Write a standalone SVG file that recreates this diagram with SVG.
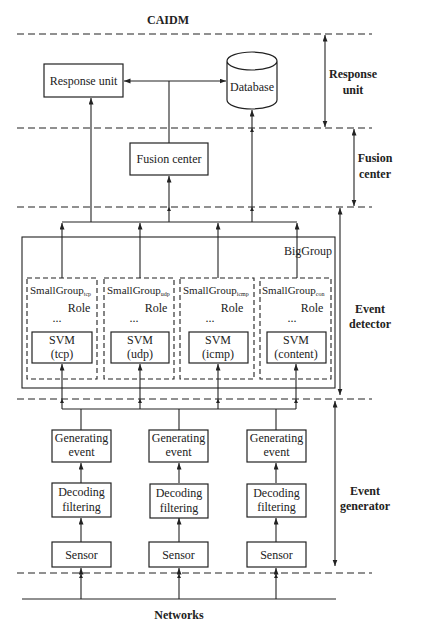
<svg xmlns="http://www.w3.org/2000/svg" width="428" height="626" viewBox="0 0 428 626">
<defs>
<marker id="ah" markerWidth="7" markerHeight="6" refX="6.5" refY="2.5" orient="auto-start-reverse" markerUnits="userSpaceOnUse"><path d="M0,0 L6.5,2.5 L0,5 z" fill="#222"/></marker>
<marker id="am" markerWidth="5" markerHeight="4" refX="4" refY="2" orient="auto" markerUnits="userSpaceOnUse"><path d="M0,0 L4,2 L0,4 z" fill="#222"/></marker>
<style>
.box{fill:#fff;stroke:#222;stroke-width:1.2}
.sg{fill:none;stroke:#222;stroke-width:1.1;stroke-dasharray:5,3}
.dash{stroke:#222;stroke-width:1.1;stroke-dasharray:7,4;fill:none}
.ln{stroke:#222;stroke-width:1.1;fill:none}
.arr{stroke:#222;stroke-width:1.1;fill:none;marker-end:url(#ah)}
.arm{stroke:#222;stroke-width:1.1;fill:none;marker-mid:url(#am);marker-end:url(#ah)}
.dbl{stroke:#222;stroke-width:1.1;fill:none;marker-start:url(#ah);marker-end:url(#ah)}
.t{font-family:"Liberation Serif","Times New Roman",serif;font-size:12px;fill:#222;text-anchor:middle}
.b{font-family:"Liberation Serif","Times New Roman",serif;font-size:12px;font-weight:bold;fill:#222;text-anchor:middle}
.s{font-family:"Liberation Serif","Times New Roman",serif;font-size:11px;fill:#222}
.sub{font-size:6px}
</style>
</defs>
<g id="layers">
<line class="dash" x1="17" y1="34" x2="372" y2="34"/>
<line class="dash" x1="17" y1="128" x2="372" y2="128"/>
<line class="dash" x1="17" y1="207" x2="372" y2="207"/>
<line class="dash" x1="17" y1="399" x2="372" y2="399"/>
<line class="dash" x1="17" y1="573" x2="372" y2="573"/>
<line class="ln" x1="22" y1="599" x2="336" y2="599" stroke-width="1.6"/>
<text class="b" x="168" y="24">CAIDM</text>
<text class="b" x="179" y="619">Networks</text>
<line class="dbl" x1="325" y1="35" x2="325" y2="127"/>
<text class="b" x="353" y="78">Response</text>
<text class="b" x="353" y="94">unit</text>
<line class="dbl" x1="354" y1="129" x2="354" y2="206"/>
<text class="b" x="375" y="162">Fusion</text>
<text class="b" x="375" y="178">center</text>
<line class="dbl" x1="340" y1="208" x2="340" y2="395"/>
<text class="b" x="370" y="313">Event</text>
<text class="b" x="370" y="328">detector</text>
<line class="dbl" x1="335" y1="401" x2="335" y2="566"/>
<text class="b" x="365" y="495">Event</text>
<text class="b" x="365" y="510">generator</text>
</g>
<g id="connectors">
<line class="dbl" x1="124" y1="81" x2="226" y2="81"/>
<polyline class="ln" points="169,143 169,81"/>
<line class="arr" x1="91" y1="222" x2="91" y2="98"/>
<polyline class="arm" points="169,222 169,207 169,176"/>
<polyline class="arm" points="252,222 252,207 252,128 252,110"/>
<line class="ln" x1="62" y1="222" x2="297" y2="222"/>
<line class="arr" x1="62" y1="278" x2="62" y2="223"/>
<line class="arr" x1="140" y1="278" x2="140" y2="223"/>
<line class="arr" x1="218" y1="278" x2="218" y2="223"/>
<line class="arr" x1="297" y1="278" x2="297" y2="223"/>
<line class="ln" x1="62" y1="409" x2="296" y2="409"/>
<polyline class="arm" points="62,409 62,399 62,364"/>
<polyline class="arm" points="140,409 140,399 140,364"/>
<polyline class="arm" points="218,409 218,399 218,364"/>
<polyline class="arm" points="296,409 296,399 296,364"/>
<line class="ln" x1="81" y1="409" x2="81" y2="430"/>
<line class="ln" x1="179" y1="409" x2="179" y2="430"/>
<line class="ln" x1="276" y1="409" x2="276" y2="430"/>
<line class="arr" x1="81" y1="483" x2="81" y2="463"/>
<line class="arr" x1="179" y1="483" x2="179" y2="463"/>
<line class="arr" x1="276" y1="483" x2="276" y2="463"/>
<line class="arr" x1="81" y1="542" x2="81" y2="518"/>
<line class="arr" x1="179" y1="542" x2="179" y2="518"/>
<line class="arr" x1="276" y1="542" x2="276" y2="518"/>
<polyline class="arm" points="81,599 81,574 81,568"/>
<polyline class="arm" points="179,599 179,574 179,568"/>
<polyline class="arm" points="276,599 276,574 276,568"/>
</g>
<g id="response-unit">
<rect class="box" x="44" y="64" width="79" height="33"/>
<text class="t" x="83.5" y="85">Response unit</text>
</g>
<g id="database">
<path class="box" d="M227,61 V100 A25,9 0 0 0 277,100 V61 A25,9 0 0 0 227,61 A25,9 0 0 0 277,61"/>
<text class="t" x="252" y="91">Database</text>
</g>
<g id="fusion-center">
<rect class="box" x="130" y="143" width="78" height="32"/>
<text class="t" x="169" y="163">Fusion center</text>
</g>
<g id="biggroup">
<rect class="ln" x="22" y="237" width="313" height="151" stroke-width="1.2"/>
<text class="t" x="332" y="255" text-anchor="end" style="text-anchor:end">BigGroup</text>
</g>
<g id="sg-tcp">
<rect class="sg" x="27" y="278" width="70" height="101"/>
<text class="s" x="30" y="294">SmallGroup<tspan class="sub" dy="2">tcp</tspan></text>
<text class="t" x="79" y="312">Role</text>
<text class="t" x="57" y="322">...</text>
<rect class="box" x="32" y="332" width="60" height="31"/>
<text class="t" x="62" y="344">SVM</text>
<text class="t" x="62" y="358">(tcp)</text>
</g>
<g id="sg-udp">
<rect class="sg" x="104" y="278" width="70" height="101"/>
<text class="s" x="107" y="294">SmallGroup<tspan class="sub" dy="2">udp</tspan></text>
<text class="t" x="156" y="312">Role</text>
<text class="t" x="134" y="322">...</text>
<rect class="box" x="111" y="332" width="58" height="31"/>
<text class="t" x="140" y="344">SVM</text>
<text class="t" x="140" y="358">(udp)</text>
</g>
<g id="sg-icmp">
<rect class="sg" x="180" y="278" width="74" height="101"/>
<text class="s" x="183" y="294">SmallGroup<tspan class="sub" dy="2">icmp</tspan></text>
<text class="t" x="232" y="312">Role</text>
<text class="t" x="210" y="322">...</text>
<rect class="box" x="189" y="332" width="59" height="31"/>
<text class="t" x="218" y="344">SVM</text>
<text class="t" x="218" y="358">(icmp)</text>
</g>
<g id="sg-con">
<rect class="sg" x="260" y="278" width="71" height="101"/>
<text class="s" x="262" y="294">SmallGroup<tspan class="sub" dy="2">con</tspan></text>
<text class="t" x="312" y="312">Role</text>
<text class="t" x="292" y="322">...</text>
<rect class="box" x="267" y="332" width="59" height="31"/>
<text class="t" x="296" y="344">SVM</text>
<text class="t" x="296" y="358">(content)</text>
</g>
<g id="gen1">
<rect class="box" x="52" y="430" width="59" height="32"/>
<text class="t" x="81.5" y="442">Generating</text>
<text class="t" x="81.5" y="456">event</text>
</g>
<g id="gen2">
<rect class="box" x="149" y="430" width="59" height="32"/>
<text class="t" x="178.5" y="442">Generating</text>
<text class="t" x="178.5" y="456">event</text>
</g>
<g id="gen3">
<rect class="box" x="247" y="430" width="59" height="32"/>
<text class="t" x="276.5" y="442">Generating</text>
<text class="t" x="276.5" y="456">event</text>
</g>
<g id="dec1">
<rect class="box" x="52" y="483" width="59" height="34"/>
<text class="t" x="81.5" y="496">Decoding</text>
<text class="t" x="81.5" y="511">filtering</text>
</g>
<g id="dec2">
<rect class="box" x="150" y="484" width="58" height="34"/>
<text class="t" x="179" y="497">Decoding</text>
<text class="t" x="179" y="512">filtering</text>
</g>
<g id="dec3">
<rect class="box" x="247" y="484" width="59" height="33"/>
<text class="t" x="276.5" y="497">Decoding</text>
<text class="t" x="276.5" y="511">filtering</text>
</g>
<g id="sensor1">
<rect class="box" x="52" y="542" width="59" height="25"/>
<text class="t" x="81.5" y="559">Sensor</text>
</g>
<g id="sensor2">
<rect class="box" x="149" y="542" width="59" height="25"/>
<text class="t" x="178.5" y="559">Sensor</text>
</g>
<g id="sensor3">
<rect class="box" x="247" y="542" width="59" height="25"/>
<text class="t" x="276.5" y="559">Sensor</text>
</g>
</svg>
